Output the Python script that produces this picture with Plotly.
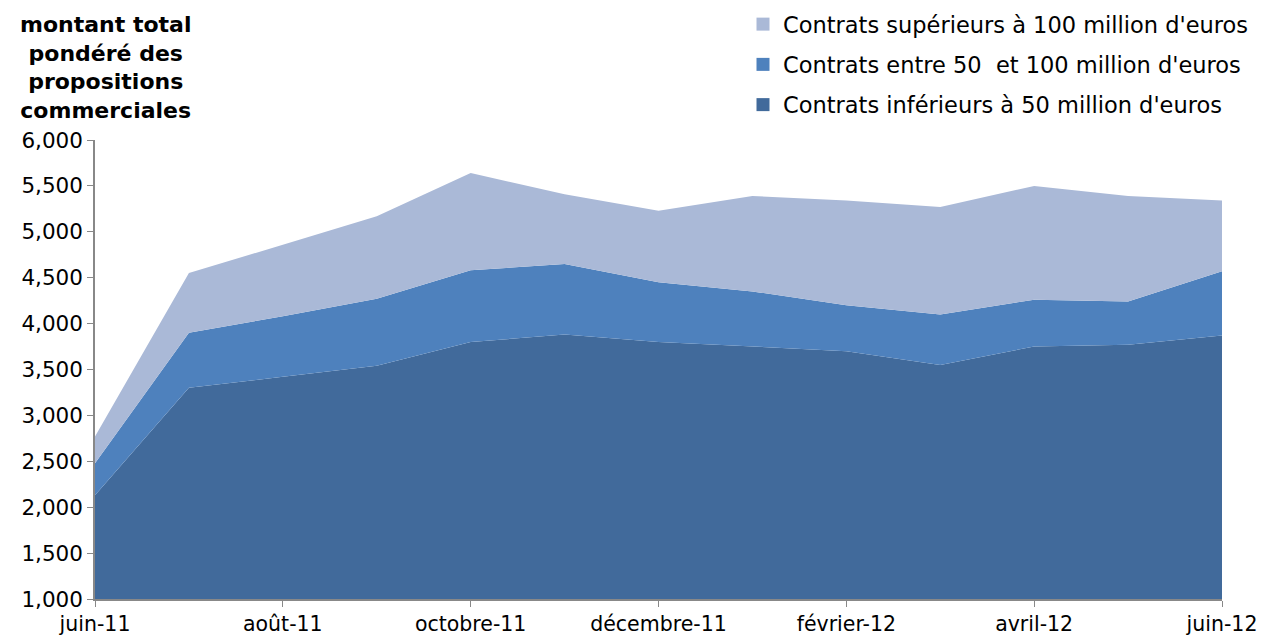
import plotly.graph_objects as go

months = ["juin-11", "juil-11", "août-11", "septembre-11", "octobre-11", "novembre-11",
          "décembre-11", "janvier-12", "février-12", "mars-12", "avril-12", "mai-12", "juin-12"]
tick_labels = ["juin-11", "août-11", "octobre-11", "décembre-11", "février-12", "avril-12", "juin-12"]

inf50 = [2130, 3300, 3420, 3540, 3800, 3880, 3800, 3750, 3700, 3550, 3750, 3770, 3870]
entre50_100 = [350, 600, 660, 730, 780, 770, 650, 600, 500, 550, 510, 470, 700]
sup100 = [290, 650, 780, 900, 1060, 760, 780, 1040, 1140, 1170, 1240, 1150, 770]

names = ["Contrats inférieurs à 50 million d'euros",
         "Contrats entre 50&nbsp; et 100 million d'euros",
         "Contrats supérieurs à 100 million d'euros"]
colors = ["#416A9B", "#4E81BD", "#AAB9D7"]

fig = go.Figure()
for i, (vals, name, col) in enumerate(zip([inf50, entre50_100, sup100], names, colors)):
    fig.add_trace(go.Scatter(
        x=months, y=vals, name=name, mode="lines",
        stackgroup="one", line=dict(width=0, color=col), fillcolor=col,
        showlegend=False, hoverinfo="x+y+name",
    ))
# legend entries with square swatches (largest category listed first)
for i, (name, col) in enumerate(zip(names, colors)):
    fig.add_trace(go.Scatter(
        x=[None], y=[None], name=name, mode="markers",
        marker=dict(symbol="square", size=13, color=col),
        legendgroup=f"g{i}", legendrank=10 - i, showlegend=True,
    ))

fig.update_layout(
    width=1261, height=637,
    margin=dict(l=95, r=39, t=140, b=38, autoexpand=False),
    paper_bgcolor="white", plot_bgcolor="white",
    font=dict(family="Verdana, DejaVu Sans, sans-serif", color="#000000"),
    showlegend=True,
    legend=dict(
        x=(743 - 95) / 1127, y=(599 - 3) / 459, xanchor="left", yanchor="top",
        traceorder="grouped", font=dict(size=22.5),
        tracegroupgap=8, itemwidth=30, bgcolor="rgba(0,0,0,0)",
    ),
    xaxis=dict(
        type="category", range=[0, 12], automargin=False,
        tickmode="array", tickvals=tick_labels, ticktext=tick_labels,
        ticks="outside", ticklen=6, tickcolor="#888888",
        showline=True, linecolor="#888888", linewidth=1.5,
        showgrid=False, zeroline=False,
        tickfont=dict(size=20.5),
    ),
    yaxis=dict(
        range=[1000, 6000], tickmode="linear", tick0=1000, dtick=500, automargin=False,
        tickformat=",d", ticks="outside", ticklen=6, tickcolor="#888888",
        showline=True, linecolor="#888888", linewidth=1.5,
        showgrid=False, zeroline=False,
        tickfont=dict(size=21.5),
    ),
    annotations=[dict(
        text="<b>montant total<br>pondéré des<br>propositions<br>commerciales</b>",
        xref="paper", yref="paper", x=(105 - 95) / 1127, y=(599 - 10) / 459,
        xanchor="center", yanchor="top",
        showarrow=False, align="center", font=dict(size=22),
    )],
)

fig.write_html("out.html", config={"displayModeBar": False},
               post_script="document.body.style.margin='0';")
